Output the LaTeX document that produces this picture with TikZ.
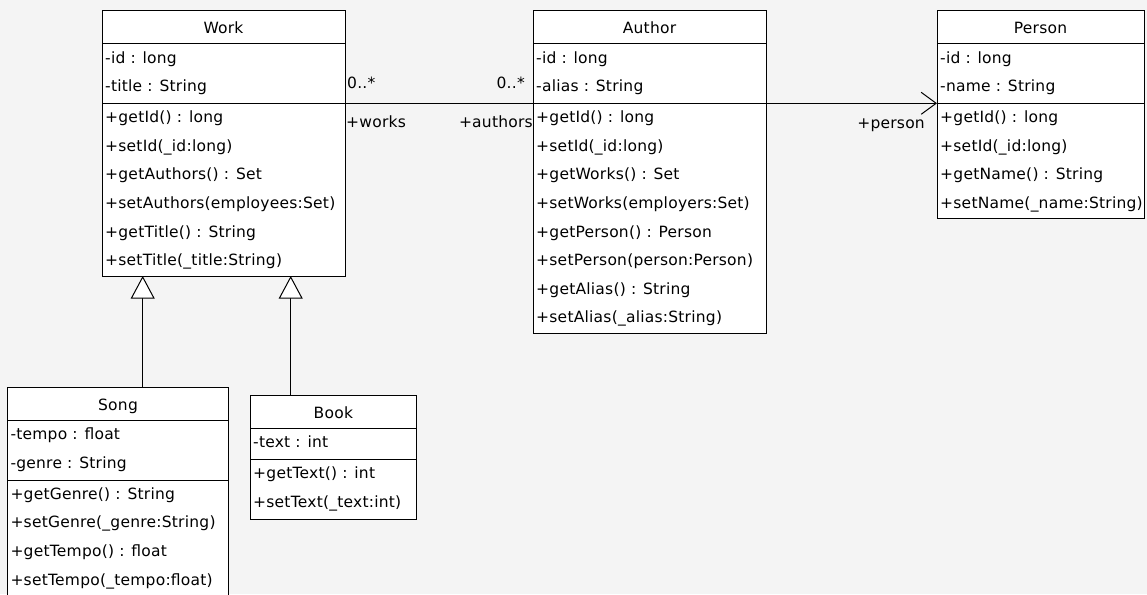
\documentclass[tikz,border=0pt]{standalone}
\usepackage{fontspec}
\setmainfont{DejaVu Sans}[LetterSpace=1.5]
\usetikzlibrary{arrows.meta,calc}
\definecolor{canvas}{RGB}{244,244,244}
\tikzset{
  x=1pt, y=-1pt,
  classbox/.style={draw=black, fill=white, line width=1pt, rectangle, anchor=north west, inner sep=0pt, outer sep=0pt},
  member/.style={anchor=base west, inner sep=0pt, font=\fontsize{15.5}{18}\selectfont},
  classname/.style={anchor=base, inner sep=0pt, font=\fontsize{15.5}{18}\selectfont},
  rolelabel/.style={inner sep=0pt, font=\fontsize{15.5}{18}\selectfont},
  divider/.style={line width=1pt},
  generalize/.style={line width=1pt, -{Triangle[length=22.7pt,width=24pt,fill=white]}},
  navigable/.style={line width=1pt, -{Straight Barb[length=15pt,width=22pt]}},
  plainassoc/.style={line width=1pt},
}
% #1 name, #2 x, #3 y, #4 width, #5 height, #6 class name,
% #7 number of attributes, #8 attributes, #9 operations
\newcommand\umlclass[9]{%
  \node[classbox, minimum width=#4pt, minimum height=#5pt] (#1) at (#2,#3) {};
  \node[classname] (#1-name) at ($(#1.north)+(0,23)$) {#6};
  \draw[divider] ($(#1.north west)+(0,33)$) -- ($(#1.north east)+(0,33)$);
  \draw[divider] ($(#1.north west)+(0,{33+28.6*#7+3})$) -- ($(#1.north east)+(0,{33+28.6*#7+3})$);
  \foreach \txt [count=\i from 0] in {#8}
    {\node[member] (#1-a\i) at ($(#1.north west)+(3,{33+19.6+28.6*\i})$) {\txt};}
  \foreach \txt [count=\i from 0] in {#9}
    {\node[member] (#1-m\i) at ($(#1.north west)+(3,{33+28.6*#7+3+18.8+28.6*\i})$) {\txt};}
}
\begin{document}
\begin{tikzpicture}
\fill[canvas] (0,0) rectangle (1147,594);
\useasboundingbox (0,0) rectangle (1147,594);
\clip (0,0) rectangle (1147,594);

\umlclass{work}{102}{10.7}{243}{265.3}{Work}{2}
  {{-id : long},{-title : String}}
  {{+getId() : long},{+setId(\_id:long)},{+getAuthors() : Set},{+setAuthors(employees:Set)},{+getTitle() : String},{+setTitle(\_title:String)}}

\umlclass{author}{533}{10.7}{233}{322.3}{Author}{2}
  {{-id : long},{-alias : String}}
  {{+getId() : long},{+setId(\_id:long)},{+getWorks() : Set},{+setWorks(employers:Set)},{+getPerson() : Person},{+setPerson(person:Person)},{+getAlias() : String},{+setAlias(\_alias:String)}}

\umlclass{person}{937}{10.7}{207}{207.3}{Person}{2}
  {{-id : long},{-name : String}}
  {{+getId() : long},{+setId(\_id:long)},{+getName() : String},{+setName(\_name:String)}}

\umlclass{song}{7.3}{387.3}{221.4}{230}{Song}{2}
  {{-tempo : float},{-genre : String}}
  {{+getGenre() : String},{+setGenre(\_genre:String)},{+getTempo() : float},{+setTempo(\_tempo:float)}}

\umlclass{book}{250}{395}{166.7}{124}{Book}{1}
  {{-text : int}}
  {{+getText() : int},{+setText(\_text:int)}}

% generalisation: Song and Book specialise Work
\coordinate (songtop) at ([xshift=135.4pt]song.north west);
\coordinate (booktop) at ([xshift=40.7pt]book.north west);
\draw[generalize] (songtop) -- (songtop |- work.south);
\draw[generalize] (booktop) -- (booktop |- work.south);

% many-to-many association Work -- Author
\draw[plainassoc] ([yshift=-92.6pt]work.north east) -- ([yshift=-92.6pt]author.north west);
\node[rolelabel, anchor=base west] (workmult) at ($(work.north east)+(2,77.3)$) {0..*};
\node[rolelabel, anchor=base east] (authmult) at ($(author.north west)+(-8,77.3)$) {0..*};
\node[rolelabel, anchor=base west] (workrole) at ($(work.north east)+(1,116.6)$) {+works};
\node[rolelabel, anchor=base east] (authrole) at ($(author.north west)+(0,116.6)$) {+authors};

% navigable association Author -> Person
\draw[navigable] ([yshift=-92.6pt]author.north east) -- ([yshift=-92.6pt]person.north west);
\node[rolelabel, anchor=base east] (personrole) at ($(person.north west)+(-12,117.3)$) {+person};
\end{tikzpicture}
\end{document}
